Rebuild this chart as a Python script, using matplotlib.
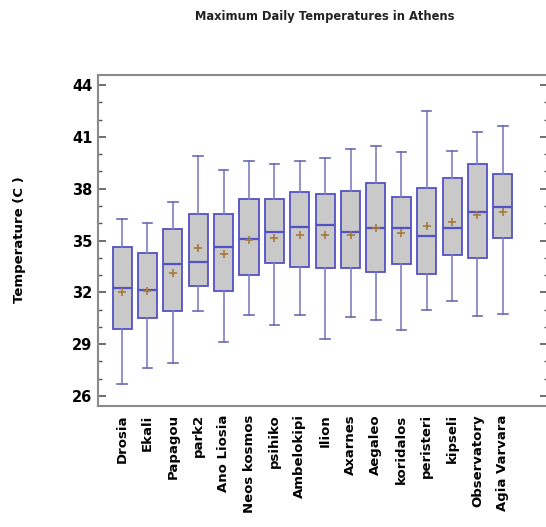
import matplotlib
matplotlib.use("Agg")
import matplotlib.pyplot as plt
from matplotlib.ticker import MultipleLocator

stations = ["Drosia", "Ekali", "Papagou", "park2", "Ano Liosia", "Neos kosmos",
            "psihiko", "Ambelokipi", "Ilion", "Axarnes", "Aegaleo", "koridalos",
            "peristeri", "kipseli", "Observatory", "Agia Varvara"]
whislo = [26.7, 27.6, 27.9, 30.9, 29.15, 30.67, 30.1, 30.67, 29.3, 30.56, 30.4, 29.82, 30.98, 31.5, 30.65, 30.73]
q1 = [29.86, 30.5, 30.92, 32.37, 32.08, 33.0, 33.72, 33.47, 33.41, 33.41, 33.18, 33.62, 33.04, 34.16, 33.97, 35.13]
med = [32.23, 32.14, 33.62, 33.74, 34.6, 35.07, 35.47, 35.8, 35.9, 35.51, 35.74, 35.74, 35.26, 35.71, 36.67, 36.96]
mean = [32.04, 32.1, 33.1, 34.57, 34.22, 35.02, 35.17, 35.32, 35.32, 35.32, 35.7, 35.42, 35.86, 36.09, 36.48, 36.67]
q3 = [34.6, 34.3, 35.67, 36.55, 36.55, 37.38, 37.38, 37.79, 37.67, 37.89, 38.35, 37.54, 38.06, 38.6, 39.41, 38.83]
whishi = [36.23, 36.0, 37.25, 39.89, 39.08, 39.6, 39.41, 39.6, 39.76, 40.3, 40.47, 40.12, 42.51, 40.2, 41.3, 41.63]
yticks = [26, 29, 32, 35, 38, 41, 44]

stats = []
for i in range(len(stations)):
    stats.append(dict(label=stations[i], whislo=whislo[i], q1=q1[i], med=med[i],
                      mean=mean[i], q3=q3[i], whishi=whishi[i], fliers=[]))

fig = plt.figure(figsize=(5.46, 5.27), dpi=100)
ax = fig.add_axes([0.1795, 0.2296, 0.825, 0.628])

edge = "#5252c4"
ax.bxp(stats, positions=range(len(stations)), widths=0.75, showmeans=True,
       patch_artist=True,
       boxprops=dict(facecolor="#c9c9c9", edgecolor=edge, linewidth=1.3),
       medianprops=dict(color=edge, linewidth=1.6),
       whiskerprops=dict(color="#7f7fc4", linewidth=1.2),
       capprops=dict(color="#6a6ab0", linewidth=1.2),
       meanprops=dict(marker="+", markeredgecolor="#a8783a", markersize=6, markeredgewidth=1.2))

ax.set_xlim(-0.95, 16.8)
ax.set_ylim(25.42, 44.58)
ax.set_yticks(yticks)
ax.set_yticklabels([str(t) for t in yticks], fontsize=10.5, fontweight="bold")
ax.yaxis.set_minor_locator(MultipleLocator(1))
ax.tick_params(axis="y", which="both", direction="in", right=True, color="#555555")
ax.tick_params(axis="y", which="major", length=6, width=1.2, pad=4)
ax.tick_params(axis="y", which="minor", length=3, width=1.0)
ax.tick_params(axis="x", length=0, pad=6)
ax.set_xticks(range(len(stations)))
ax.set_xticklabels(stations, rotation=90, fontsize=9.5, fontweight="bold")
for s in ax.spines.values():
    s.set_color("#8a8a8a")
    s.set_linewidth(1.5)

fig.text(0.595, 0.968, "Maximum Daily Temperatures in Athens", ha="center", va="center",
         fontsize=8.3, fontweight="bold", color="#222222")
fig.text(0.036, 0.545, "Temperature (C )", rotation=90, ha="center", va="center",
         fontsize=9.5, fontweight="bold")

fig.savefig("out.png", dpi=100)
